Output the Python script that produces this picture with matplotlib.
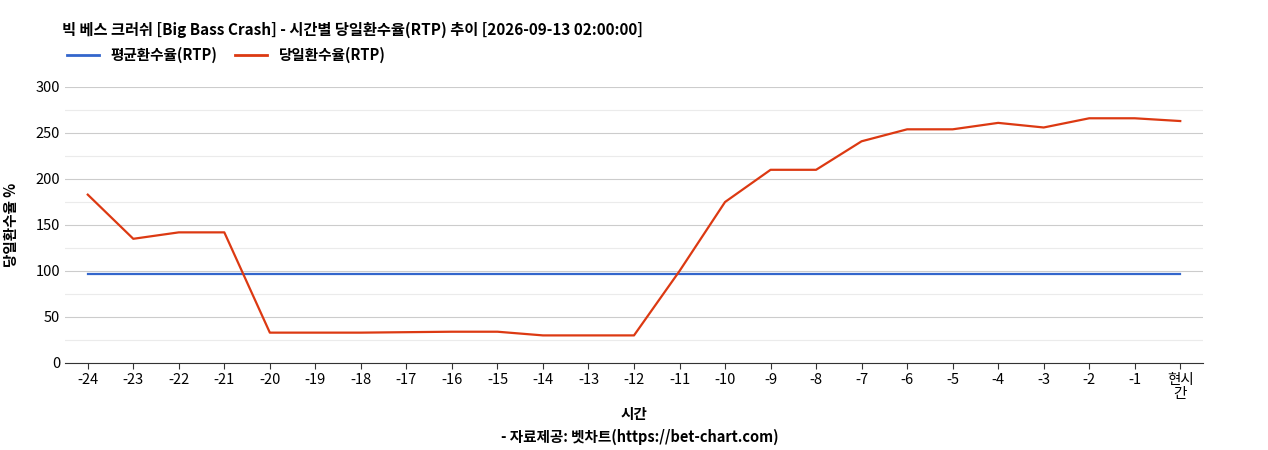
import matplotlib
matplotlib.use("Agg")
import matplotlib.pyplot as plt
from matplotlib.lines import Line2D

plt.rcParams['font.family'] = ['Noto Sans CJK KR', 'DejaVu Sans']

labels = [str(i) for i in range(-24, 0)] + ['현시\n간']
daily = [183, 135, 142, 142, 33, 33, 33, 33.5, 34, 34, 30, 30, 30, 100, 175, 210, 210, 241, 254, 254, 261, 256, 266, 266, 263]
avg = [97] * 25

fig = plt.figure(figsize=(12.68, 4.5), dpi=100)
ax = fig.add_axes([65/1268, 87/450, (1203-65)/1268, (363-87)/450])
x = list(range(len(labels)))
ax.plot(x, avg, color='#3366cc', lw=1.6)
ax.plot(x, daily, color='#dc3912', lw=1.6)
ax.set_xlim(-0.5, len(labels) - 0.5)
ax.set_ylim(0, 300)
ax.set_yticks(range(0, 301, 50))
ax.set_yticks(range(25, 300, 50), minor=True)
ax.grid(axis='y', which='major', color='#cccccc', lw=0.8)
ax.grid(axis='y', which='minor', color='#ebebeb', lw=0.8)
ax.tick_params(axis='y', which='both', length=0, labelsize=10.5)
ax.tick_params(axis='x', length=4, labelsize=10.5, color='#333333')
ax.set_xticks(x)
ax.set_xticklabels(labels, linespacing=1.0)
for s in ['top', 'right', 'left']:
    ax.spines[s].set_visible(False)
ax.spines['bottom'].set_color('#333333')
ax.set_axisbelow(True)
ax.set_ylabel('당일환수율 %', fontsize=10.5, fontweight='bold', labelpad=12)
fig.text(634/1268, 1 - 414/450, '시간', ha='center', va='center', fontsize=10.5, fontweight='bold')
fig.text(640/1268, 1 - 437/450, '- 자료제공: 벳차트(https://bet-chart.com)', ha='center', va='center', fontsize=10.5, fontweight='bold')
fig.text(62/1268, 1 - 30/450, '빅 베스 크러쉬 [Big Bass Crash] - 시간별 당일환수율(RTP) 추이 [2026-09-13 02:00:00]',
         ha='left', va='center', fontsize=11, fontweight='bold')
handles = [Line2D([], [], color='#3366cc', lw=2), Line2D([], [], color='#dc3912', lw=2)]
fig.legend(handles, ['평균환수율(RTP)', '당일환수율(RTP)'], loc='center left',
           bbox_to_anchor=(54/1268, 1 - 55/450), ncol=2, frameon=False,
           prop={'weight': 'bold', 'size': 10.5}, handlelength=2.2, columnspacing=1.2)
fig.savefig('out.png', dpi=100)
